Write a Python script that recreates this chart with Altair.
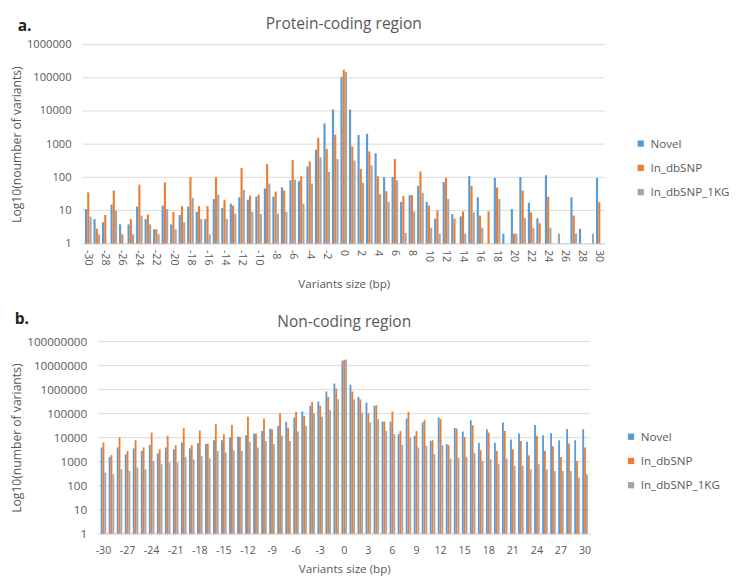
import altair as alt
import pandas as pd

sizes = list(range(-30, 31))
series = ["Novel", "In_dbSNP", "In_dbSNP_1KG"]
colors = ["#5B9BD5", "#ED7D31", "#A5A5A5"]

# Panel a: protein-coding region
a_novel = [11, 5.5, 4.4, 15, 3.8, 3.8, 13, 5.5, 2.7, 14,
           3.8, 7.3, 13, 9, 5.5, 22, 12, 16, 25, 21,
           26, 46, 26, 50, 81, 76, 212, 680, 4200, 11000,
           107000,
           11000, 1900, 2050, 530, 102, 102, 18, 29, 55, 18,
           5.7, 72, 7.7, 6.6, 109, 25, None, 95, 2, 11,
           102, 17, 5.8, 115, None, None, 25, 2.8, None, 95]
a_dbsnp = [35, 2.8, 7.3, 40, 1.9, 5.5, 60, 7.5, 2.7, 70,
           9, 13.5, 100, 13.5, 13.5, 100, 21, 14, 190, 28,
           30, 250, 37, 40, 330, 107, 300, 1550, 710, 1900,
           175000,
           850, 180, 600, 107, 38, 355, 27, 29, 150, 14,
           10, 95, 5.7, 9.3, 55, 7, 9.3, 49, None, 2,
           40, 8.7, 4.1, 26, None, None, 7, None, None, 17.7]
a_1kg = [6.5, 1.9, None, 10, None, 1.9, 7, 3.8, 1.9, 11,
         2.7, 4.4, 24, 5.5, 1.9, 30, 5.5, 8, 42, 9,
         7.8, 65, 8, 9, 85, 16, 65, 400, 144, 355,
         150000,
         320, 69, 228, 31, 18, 81, 2.1, 9.3, 34, 3,
         2, 22, None, 2, 8.7, 3, None, 22, None, 2,
         5.9, 3, None, 3, 2, None, 2, None, 2, None]

# Panel b: non-coding region
b_novel = [3900, 1600, 3900, 2000, 3600, 2800, 4900, 2200, 3900, 3300,
           6300, 3600, 5900, 5400, 7800, 7800, 10200, 10800, 12700, 14800,
           19000, 24000, 31000, 46000, 69000, 123000, 213000, 320000, 840000, 1800000,
           16000000,
           1600000, 500000, 290000, 213000, 47000, 47000, 13900, 63000, 12000, 43000,
           7300, 69000, 5400, 25000, 18000, 53000, 6100, 22500, 6100, 43000,
           8400, 14800, 6700, 34000, 12700, 15400, 7800, 23000, 7800, 22500]
b_dbsnp = [6300, 1900, 10200, 2800, 7800, 3900, 16300, 3300, 12000, 4900,
           25000, 4900, 20000, 5700, 38000, 13900, 34000, 10800, 74000, 14800,
           63000, 22500, 105000, 26000, 119000, 81000, 310000, 213000, 500000, 1120000,
           17000000,
           840000, 390000, 105000, 225000, 47000, 123000, 19000, 119000, 19000, 55000,
           7800, 59000, 4900, 24000, 10800, 33000, 3000, 16300, 2800, 19000,
           3300, 7300, 1850, 12000, 2800, 4400, 1580, 5700, 1070, 3900]
b_1kg = [350, 300, 480, 410, 570, 480, 1070, 780, 920, 920,
         1580, 1260, 1700, 1390, 2800, 2400, 3000, 2800, 6700, 3900,
         7300, 5400, 12000, 7300, 18000, 31000, 105000, 74000, 140000, 400000,
         18000000,
         390000, 112000, 43000, 59000, 19000, 13900, 5000, 10200, 3900, 4600,
         2050, 4900, 1350, 1480, 1580, 2250, 1070, 1260, 780, 1350,
         670, 670, 480, 780, 480, 410, 410, 410, 220, 300]

a_yticks = [1, 10, 100, 1000, 10000, 100000, 1000000]
b_yticks = [1, 10, 100, 1000, 10000, 100000, 1000000, 10000000, 100000000]
a_xticks = list(range(-30, 31, 2))
b_xticks = list(range(-30, 31, 3))

FONT = "Open Sans"
GREY = "#595959"


def long_df(novel, dbsnp, kg):
    rows = []
    for i, s in enumerate(sizes):
        for name, vals in zip(series, (novel, dbsnp, kg)):
            v = vals[i]
            if v is not None:
                rows.append({"size": s, "series": name, "n": float(v)})
    return pd.DataFrame(rows)


def panel(df, letter, title, ytitle, yticks, xticks, cfg):
    w, h, x0 = cfg["w"], cfg["h"], cfg["x0"]
    yscale = alt.Scale(type="log", domain=[1, yticks[-1]], nice=False)
    xscale = alt.Scale(domain=sizes, range=[x0, w], paddingInner=0, paddingOuter=0.15)
    xaxis = alt.Axis(values=xticks, labelAngle=cfg["angle"], labelOverlap=False,
                     title="Variants size (bp)", labelFont=FONT, labelFontSize=11,
                     labelColor=GREY, titleFont=FONT, titleFontSize=12, titleColor=GREY,
                     titleFontWeight="normal", ticks=False, domain=True,
                     domainColor="#D9D9D9", labelPadding=cfg["xlp"], titlePadding=cfg["xtp"])
    yaxis = alt.Axis(values=yticks, format="d", title=ytitle, offset=-x0,
                     labelFont=FONT, labelFontSize=cfg["ylfs"], labelColor=GREY,
                     titleFont=FONT, titleFontSize=12.5, titleColor=GREY,
                     titleFontWeight="normal", ticks=False, domain=False,
                     grid=False, labelPadding=12, titlePadding=3)

    grid = alt.Chart(pd.DataFrame({"v": yticks})).mark_rule(
        color="#D9D9D9", strokeWidth=1
    ).encode(y=alt.Y("v:Q", scale=yscale, axis=yaxis), x=alt.value(x0), x2=alt.value(w))

    layers = [grid]
    for name, off in zip(series, cfg["offsets"]):
        layers.append(
            alt.Chart(df).transform_filter(alt.datum.series == name).mark_bar(
                width=cfg["bw"], xOffset=off
            ).encode(
                x=alt.X("size:O", scale=xscale, axis=xaxis),
                y=alt.Y("n:Q", scale=yscale, axis=yaxis),
                y2=alt.datum(1),
                color=alt.Color("series:N",
                                scale=alt.Scale(domain=series, range=colors),
                                legend=alt.Legend(title=None, orient="none",
                                                  legendX=cfg["legx"], legendY=cfg["legy"],
                                                  symbolType="square", symbolSize=42,
                                                  symbolStrokeWidth=0, labelFont=FONT,
                                                  labelFontSize=12, labelColor=GREY,
                                                  rowPadding=13)),
            )
        )

    tags = alt.Chart(pd.DataFrame({"t": [letter, title], "kind": ["tag", "title"]}))
    layers.append(tags.transform_filter(alt.datum.kind == "tag").mark_text(
        font=FONT, fontSize=16, fontWeight="bold", color="#222222",
        align="left", baseline="middle"
    ).encode(x=alt.value(cfg["tagx"]), y=alt.value(cfg["tagy"]), text="t:N"))
    layers.append(tags.transform_filter(alt.datum.kind == "title").mark_text(
        font=FONT, fontSize=16, color=GREY, align="center", baseline="middle"
    ).encode(x=alt.value((x0 + w) / 2), y=alt.value(cfg["titley"]), text="t:N"))
    return alt.layer(*layers).properties(width=w, height=h)


cfg_a = dict(w=538, h=205, x0=0, angle=90, xlp=6, xtp=14, ylfs=11.5,
             bw=2.2, offsets=[-2.3, 0, 2.3], legx=569, legy=96,
             tagx=-67, tagy=-19, titley=-21)
cfg_b = dict(w=523, h=198, x0=16, angle=0, xlp=11, xtp=9, ylfs=12,
             bw=1.9, offsets=[-1.9, 0, 1.9], legx=559, legy=92,
             tagx=-70, tagy=-23, titley=-20)

chart_a = panel(long_df(a_novel, a_dbsnp, a_1kg), "a.", "Protein-coding region",
                "Log10(noumber of variants)", a_yticks, a_xticks, cfg_a)
chart_b = panel(long_df(b_novel, b_dbsnp, b_1kg), "b.", "Non-coding region",
                "Log10(number of variants)", b_yticks, b_xticks, cfg_b)

chart = alt.vconcat(chart_a, chart_b, spacing=22).resolve_scale(
    color="independent"
).resolve_legend(color="independent").configure_view(stroke=None).properties(
    padding={"left": 2, "top": 0, "right": 0, "bottom": 0})

chart.save("out.html", embed_options={"renderer": "svg", "actions": False})
